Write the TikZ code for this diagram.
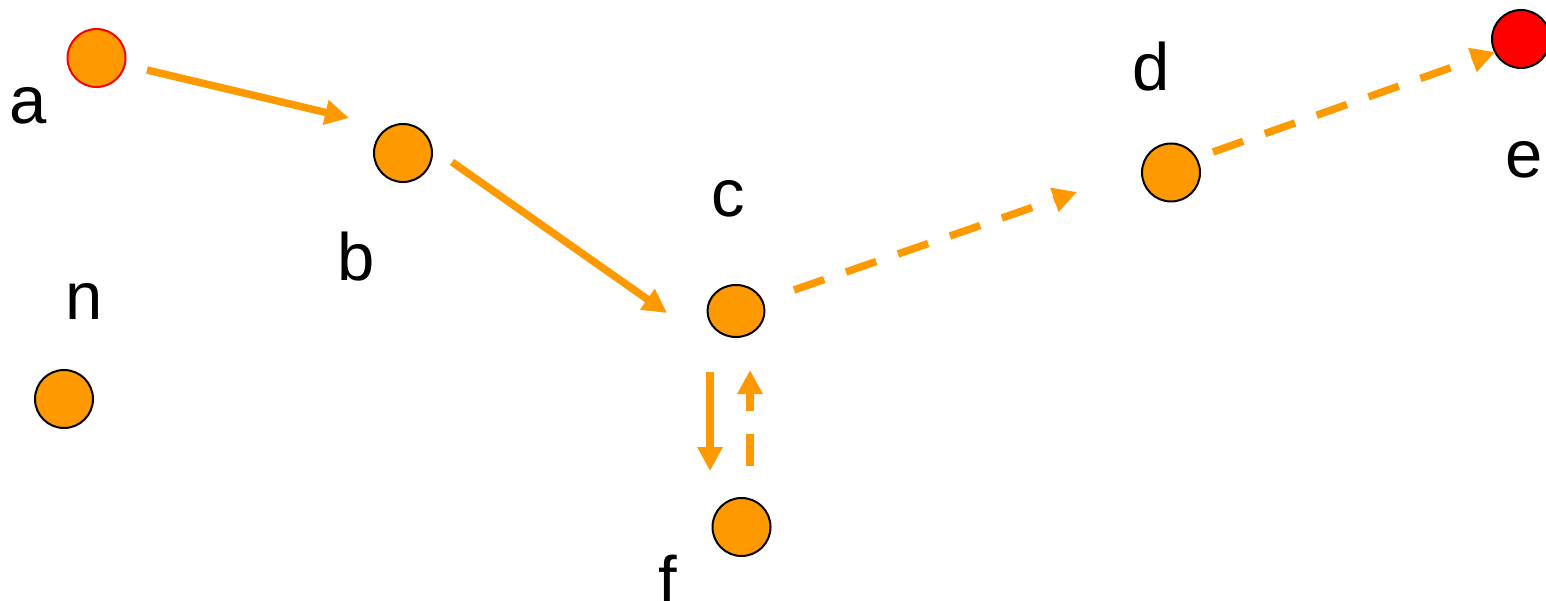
\documentclass[tikz,border=0pt]{standalone}
\usepackage{fontspec}
\setmainfont{Liberation Sans}
\usetikzlibrary{arrows.meta,shapes.geometric}
\definecolor{orng}{RGB}{255,153,0}
\definecolor{rd}{RGB}{255,0,0}
\begin{document}
\begin{tikzpicture}[x=1pt,y=-1pt,
  dot/.style={circle,draw=black,line width=2pt,fill=orng,minimum size=58pt,inner sep=0pt},
  lbl/.style={inner sep=0pt,font=\fontsize{67}{80}\selectfont},
  edge/.style={draw=orng,line width=7.5pt,-{Triangle[length=24pt,width=24pt]}},
  dashedge/.style={edge,dash pattern=on 32pt off 23pt}]
\useasboundingbox (0,0) rectangle (1546,601);
\node[dot,draw=rd] (a) at (96.5,58) {};
\node[dot] (b) at (403,153) {};
\node[ellipse,draw=black,line width=2pt,fill=orng,minimum width=57pt,minimum height=52pt,inner sep=0pt] (c) at (736,311) {};
\node[dot] (d) at (1171,172.5) {};
\node[dot,fill=rd] (e) at (1521,39) {};
\node[dot] (f) at (741.5,527) {};
\node[dot] (n) at (64,399) {};
\node[lbl] (la) at (28,106) {a};
\node[lbl] (lb) at (356,257) {b};
\node[lbl] (lc) at (728,199) {c};
\node[lbl] (ld) at (1151,67) {d};
\node[lbl] (le) at (1524,160) {e};
\node[lbl] (lf) at (668,579) {f};
\node[lbl] (ln) at (84,301) {n};
\draw[edge] ([shift={(50.5,12)}]a.center) -- ([shift={(-54,-35)}]b.center);
\draw[edge] ([shift={(49,9)}]b.center) -- ([shift={(-69,2)}]c.center);
\draw[dashedge] ([shift={(58,-21)}]c.center) -- ([shift={(-94,19.5)}]d.center);
\draw[dashedge] ([shift={(42,-20.5)}]d.center) -- ([shift={(-26,13)}]e.center);
\draw[edge] ([shift={(-26,61)}]c.center) -- ([shift={(-31.5,-56)}]f.center);
\draw[dashedge] ([shift={(8.5,-61)}]f.center) -- ([shift={(14,59)}]c.center);
\end{tikzpicture}
\end{document}
